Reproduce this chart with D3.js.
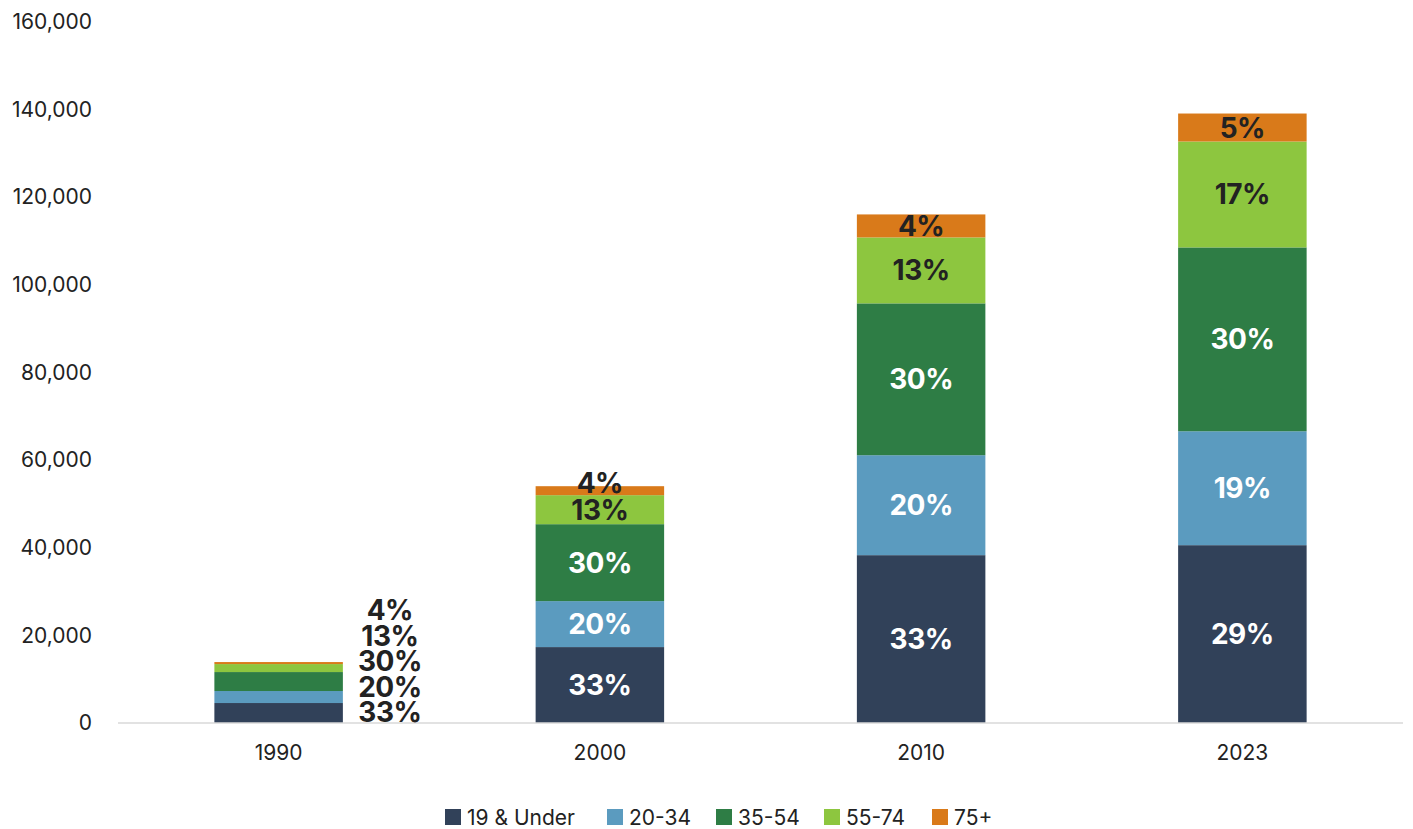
<!DOCTYPE html>
<html>
<head>
<meta charset="utf-8">
<script src="https://cdn.jsdelivr.net/npm/d3@7"></script>
<style>
  body { margin: 0; background: #fff; }
  svg { font-family: Inter, "Noto Sans", sans-serif; }
</style>
</head>
<body>
<div id="viz"></div>
<script>
const width = 1413;
const height = 829;
const margin = { top: 22, right: 10, bottom: 106, left: 118 };

// data
const years = ['1990', '2000', '2010', '2023'];
const groups = ['19 & Under', '20-34', '35-54', '55-74', '75+'];
const under19 = [4560, 17330, 38310, 40590];
const age20to34 = [2740, 10490, 22810, 26000];
const age35to54 = [4330, 17560, 34660, 41960];
const age55to74 = [1820, 6620, 15050, 24170];
const age75plus = [460, 2050, 5250, 6390];
const pctLabels = [
    ['33%', '20%', '30%', '13%', '4%'],
    ['33%', '20%', '30%', '13%', '4%'],
    ['33%', '20%', '30%', '13%', '4%'],
    ['29%', '19%', '30%', '17%', '5%']
];
const yTicks = [0, 20000, 40000, 60000, 80000, 100000, 120000, 140000, 160000];

const colors = ['#314159', '#5b9bbf', '#2e7d45', '#8dc63f', '#d97a1a'];
const labelColors = ['#fff', '#fff', '#fff', '#222', '#222'];

const series = [under19, age20to34, age35to54, age55to74, age75plus];
const rows = years.map((y, i) => {
    const row = { year: y };
    groups.forEach((g, j) => row[g] = series[j][i]);
    return row;
});
const stacked = d3.stack().keys(groups)(rows);

const svg = d3.select('#viz')
    .append('svg')
    .attr('width', width)
    .attr('height', height);

const xScale = d3.scaleBand()
    .domain(years)
    .range([margin.left, width - margin.right])
    .paddingInner(0.6)
    .paddingOuter(0.3);

const yScale = d3.scaleLinear()
    .domain([0, 160000])
    .range([height - margin.bottom, margin.top]);

// y axis labels, no line
const yAxis = d3.axisLeft(yScale)
    .tickValues(yTicks)
    .tickFormat(d3.format(','))
    .tickSize(0)
    .tickPadding(0);
const yg = svg.append('g')
    .attr('transform', 'translate(92,0)')
    .call(yAxis);
yg.select('.domain').remove();
yg.selectAll('text')
    .attr('font-size', 21)
    .attr('font-family', 'Inter, sans-serif')
    .attr('fill', '#222');

// bars
svg.append('g')
    .selectAll('g')
    .data(stacked)
    .join('g')
    .attr('fill', (d, i) => colors[i])
    .selectAll('rect')
    .data(d => d)
    .join('rect')
    .attr('x', d => xScale(d.data.year))
    .attr('y', d => yScale(d[1]))
    .attr('width', xScale.bandwidth())
    .attr('height', d => yScale(d[0]) - yScale(d[1]));

// x axis
const xAxis = d3.axisBottom(xScale).tickSize(0).tickPadding(22);
const xg = svg.append('g')
    .attr('transform', `translate(0,${height - margin.bottom})`)
    .call(xAxis);
xg.select('.domain')
    .attr('stroke', '#d9d9d9')
    .attr('stroke-width', 1.5)
    .attr('d', `M${margin.left},0H${width - margin.right}`);
xg.selectAll('text')
    .attr('font-size', 21)
    .attr('font-family', 'Inter, sans-serif')
    .attr('fill', '#222');

// percentage labels
const labels = svg.append('g')
    .attr('font-weight', 700)
    .attr('font-size', 28)
    .attr('letter-spacing', -0.5)
    .attr('text-anchor', 'middle')
    .attr('dominant-baseline', 'central');

stacked.forEach((layer, j) => {
    layer.forEach((d, i) => {
        const segH = yScale(d[0]) - yScale(d[1]);
        let x = xScale(d.data.year) + xScale.bandwidth() / 2;
        let y = (yScale(d[0]) + yScale(d[1])) / 2;
        let fill = labelColors[j];
        if (i === 0) {
            // too small to fit: labels pushed beside the bar
            x = xScale(d.data.year) + xScale.bandwidth() + 47;
            y = yScale(0) - 11 - j * 25.5;
            fill = '#222';
        } else if (segH < 15) {
            y = yScale(d[1]) - 3;
        }
        labels.append('text')
            .attr('x', x)
            .attr('y', y)
            .attr('fill', fill)
            .text(pctLabels[i][j]);
    });
});

// legend
const legendItems = [445, 607, 716, 824, 932];
const legend = svg.append('g').attr('transform', 'translate(0,817)');
groups.forEach((g, i) => {
    const item = legend.append('g').attr('transform', `translate(${legendItems[i]},0)`);
    item.append('rect')
        .attr('x', 0).attr('y', -8)
        .attr('width', 16).attr('height', 16)
        .attr('fill', colors[i]);
    item.append('text')
        .attr('x', 22)
        .attr('dominant-baseline', 'central')
        .attr('font-size', 21)
        .attr('fill', '#222')
        .text(g);
});
</script>
</body>
</html>
